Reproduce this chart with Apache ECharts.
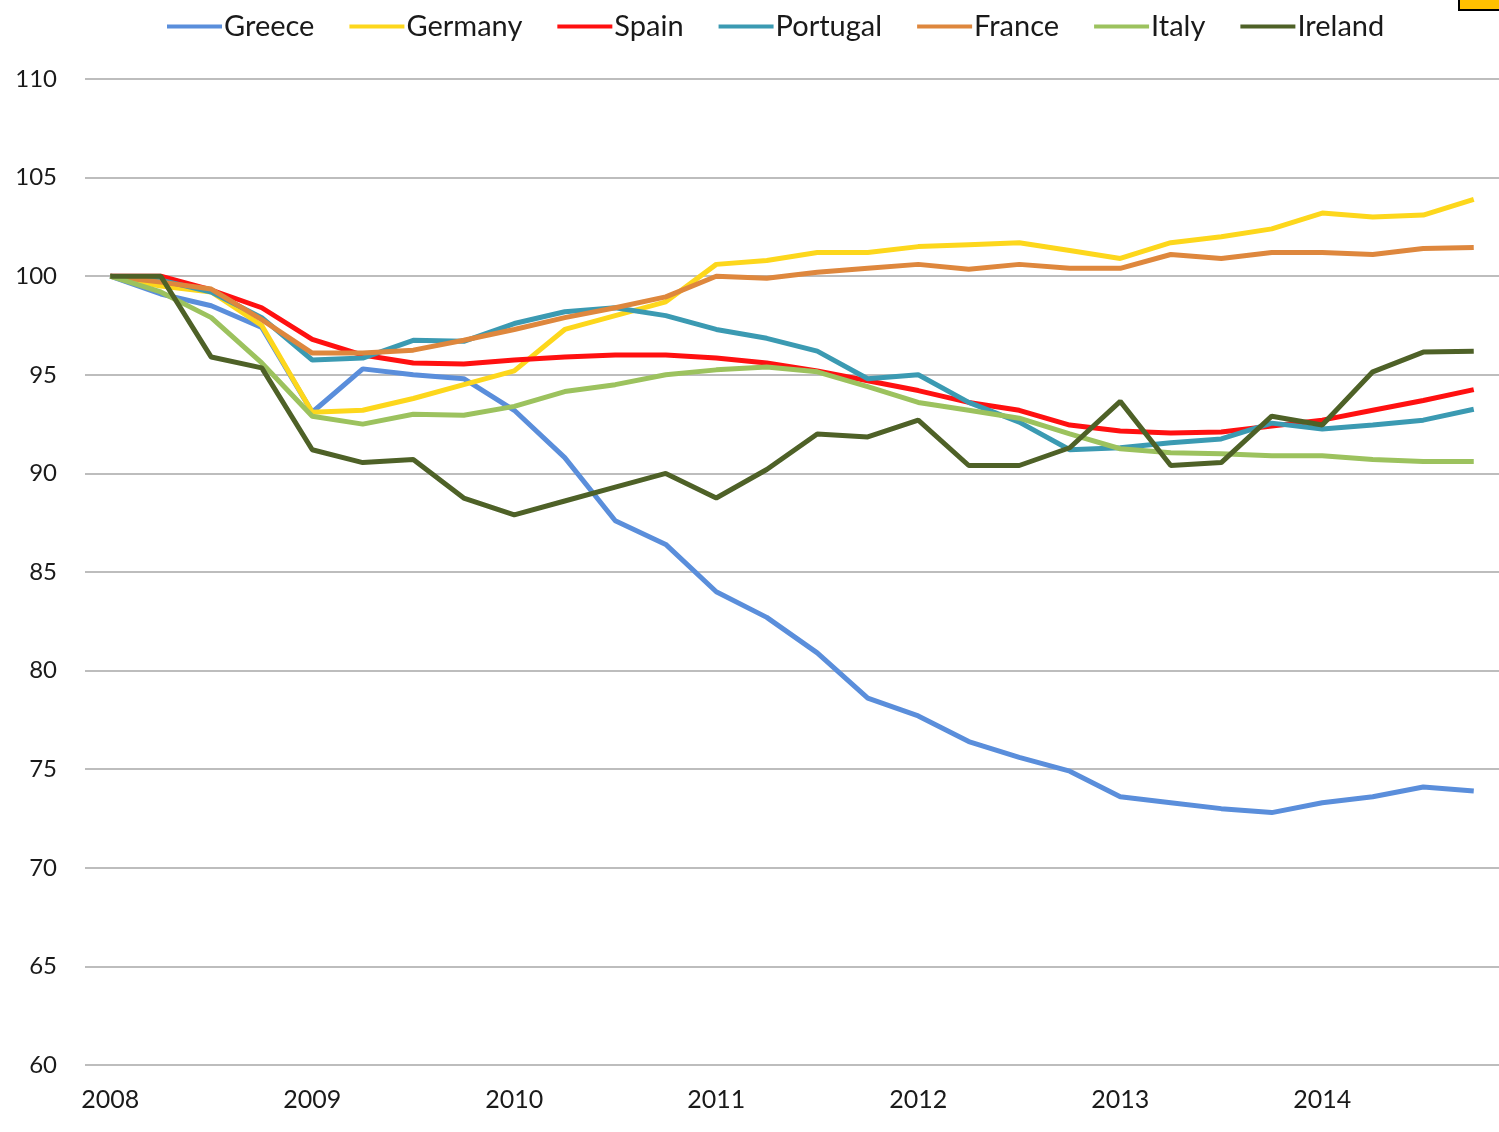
<!DOCTYPE html>
<html>
<head>
<meta charset="utf-8">
<script src="https://cdn.jsdelivr.net/npm/echarts@6/dist/echarts.min.js"></script>
<style>
  html, body { margin: 0; padding: 0; background: #fff; }
  #chart { width: 1499px; height: 1132px; }
</style>
</head>
<body>
<div id="chart"></div>
<script>
// 季度类别 2008Q1 - 2014Q4
const years = ['2008', '2009', '2010', '2011', '2012', '2013', '2014'];
const quarters = [];
years.forEach(y => { ['Q1', 'Q2', 'Q3', 'Q4'].forEach(q => quarters.push(y + ' ' + q)); });

// 各国数据 (2008Q1 = 100)
const greece   = [100, 99.1, 98.5, 97.4, 93.1, 95.3, 95.0, 94.8, 93.2, 90.8, 87.6, 86.4, 84.0, 82.7, 80.9, 78.6, 77.7, 76.4, 75.6, 74.9, 73.6, 73.3, 73.0, 72.8, 73.3, 73.6, 74.1, 73.9];
const germany  = [100, 99.5, 99.2, 97.5, 93.1, 93.2, 93.8, 94.5, 95.2, 97.3, 98.0, 98.7, 100.6, 100.8, 101.2, 101.2, 101.5, 101.6, 101.7, 101.3, 100.9, 101.7, 102.0, 102.4, 103.2, 103.0, 103.1, 103.9];
const spain    = [100, 100, 99.3, 98.4, 96.8, 96.0, 95.6, 95.55, 95.75, 95.9, 96.0, 96.0, 95.85, 95.6, 95.2, 94.7, 94.2, 93.6, 93.2, 92.45, 92.15, 92.05, 92.1, 92.4, 92.7, 93.2, 93.7, 94.25];
const portugal = [100, 99.8, 99.2, 97.9, 95.75, 95.85, 96.75, 96.7, 97.6, 98.2, 98.4, 98.0, 97.3, 96.85, 96.2, 94.8, 95.0, 93.6, 92.6, 91.2, 91.3, 91.55, 91.75, 92.55, 92.25, 92.45, 92.7, 93.25];
const france   = [100, 99.7, 99.35, 97.8, 96.1, 96.1, 96.25, 96.75, 97.3, 97.9, 98.4, 98.95, 100.0, 99.9, 100.2, 100.4, 100.6, 100.35, 100.6, 100.4, 100.4, 101.1, 100.9, 101.2, 101.2, 101.1, 101.4, 101.45];
const italy    = [100, 99.2, 97.9, 95.6, 92.9, 92.5, 93.0, 92.95, 93.4, 94.15, 94.5, 95.0, 95.25, 95.4, 95.15, 94.4, 93.6, 93.2, 92.8, 92.0, 91.25, 91.05, 91.0, 90.9, 90.9, 90.7, 90.6, 90.6];
const ireland  = [100, 100, 95.9, 95.35, 91.2, 90.55, 90.7, 88.75, 87.9, 88.6, 89.3, 90.0, 88.75, 90.2, 92.0, 91.85, 92.7, 90.4, 90.4, 91.3, 93.65, 90.4, 90.55, 92.9, 92.45, 95.15, 96.15, 96.2];

const seriesNames = ['Greece', 'Germany', 'Spain', 'Portugal', 'France', 'Italy', 'Ireland'];
const seriesData = [greece, germany, spain, portugal, france, italy, ireland];
const colors = ['#5A8EDB', '#FDD71C', '#FF1010', '#3B9AB2', '#DE873D', '#9CC25E', '#4E6127'];

const chart = echarts.init(document.getElementById('chart'));

const option = {
    animation: false,
    backgroundColor: '#fff',
    color: colors,
    textStyle: { fontFamily: 'Lato, sans-serif' },
    legend: {
        top: 7,
        left: 162,
        icon: 'rect',
        itemWidth: 55,
        itemHeight: 4,
        itemGap: 35,
        textStyle: { fontSize: 29, color: '#1a1a1a', padding: [0, 0, 0, -3] },
        data: seriesNames
    },
    grid: { left: 85, right: 0, top: 79, bottom: 67 },
    xAxis: {
        type: 'category',
        boundaryGap: true,
        data: quarters,
        axisLine: { show: false },
        axisTick: { show: false },
        axisLabel: {
            interval: 3,
            margin: 22,
            fontSize: 25,
            color: '#1a1a1a',
            formatter: v => v.slice(0, 4)
        }
    },
    yAxis: {
        type: 'value',
        min: 60,
        max: 110,
        interval: 5,
        axisLine: { show: false },
        axisTick: { show: false },
        axisLabel: { fontSize: 24, color: '#1a1a1a', margin: 28 },
        splitLine: { lineStyle: { color: '#BDBDBD', width: 2 } }
    },
    graphic: [{
        type: 'rect',
        shape: { x: 1459, y: -6, width: 46, height: 16 },
        style: { fill: '#FFC000', stroke: '#000', lineWidth: 2 }
    }],
    series: seriesNames.map((name, i) => ({
        name: name,
        type: 'line',
        data: seriesData[i],
        symbol: 'none',
        lineStyle: { width: 5, color: colors[i] }
    }))
};

chart.setOption(option);
</script>
</body>
</html>
